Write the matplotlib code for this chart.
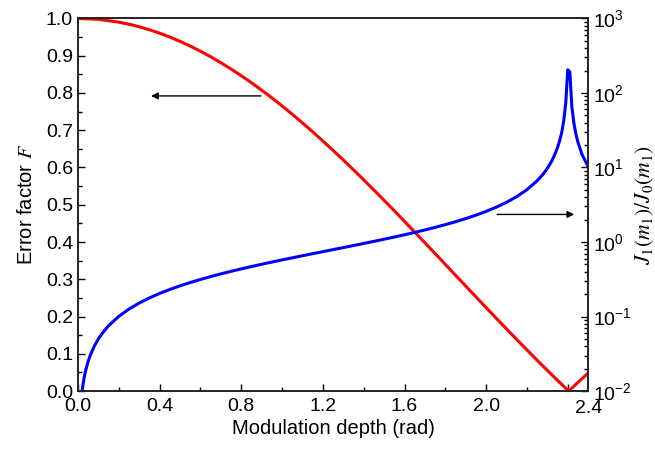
import matplotlib
matplotlib.use("Agg")
import matplotlib.pyplot as plt
from matplotlib.ticker import MultipleLocator, LogLocator, NullFormatter

plt.rcParams["font.family"] = ["Liberation Sans", "DejaVu Sans"]
plt.rcParams["mathtext.fontset"] = "stix"
plt.rcParams["axes.unicode_minus"] = False

# modulation depth (rad) and error factor F (left axis)
m_depth = [0.0, 0.1, 0.2, 0.25, 0.3, 0.35, 0.4, 0.45, 0.5, 0.55, 0.6, 0.65, 0.7,
           0.75, 0.8, 0.85, 0.9, 0.95, 1.0, 1.05, 1.1, 1.15, 1.2, 1.25, 1.3,
           1.35, 1.4, 1.45, 1.5, 1.55, 1.6, 1.65, 1.7, 1.75, 1.8, 1.85, 1.9,
           1.95, 2.0, 2.05, 2.1, 2.15, 2.2, 2.25, 2.3, 2.35, 2.4, 2.405, 2.45, 2.5]
error_factor = [1.0, 0.9975, 0.990, 0.9844, 0.9776, 0.9696, 0.9604, 0.950, 0.9385,
                0.9258, 0.912, 0.8972, 0.8812, 0.8642, 0.8463, 0.8274, 0.8075,
                0.7868, 0.7652, 0.7428, 0.7196, 0.6957, 0.6711, 0.6459, 0.6201,
                0.5937, 0.5669, 0.5396, 0.5118, 0.4838, 0.4554, 0.4268, 0.398,
                0.369, 0.340, 0.3109, 0.2818, 0.2528, 0.2239, 0.1951, 0.1666,
                0.1383, 0.1104, 0.0827, 0.0555, 0.0286, 0.0025, 0.0, 0.0235, 0.0484]

# J1(m1)/J0(m1) ratio (right axis, log)
m_ratio = [0.02, 0.03, 0.04, 0.05, 0.06, 0.08, 0.1, 0.12, 0.15, 0.2, 0.25, 0.3,
           0.35, 0.4, 0.45, 0.5, 0.55, 0.6, 0.65, 0.7, 0.75, 0.8, 0.85, 0.9, 0.95,
           1.0, 1.05, 1.1, 1.15, 1.2, 1.25, 1.3, 1.35, 1.4, 1.45, 1.5, 1.55, 1.6,
           1.65, 1.7, 1.75, 1.8, 1.85, 1.9, 1.95, 2.0, 2.05, 2.1, 2.15, 2.2, 2.25,
           2.28, 2.3, 2.32, 2.33, 2.34, 2.35, 2.36, 2.37, 2.38, 2.39, 2.40, 2.41,
           2.42, 2.43, 2.44, 2.45, 2.47, 2.5]
bessel_ratio = [0.0100, 0.0150, 0.0200, 0.0250, 0.0300, 0.0400, 0.0501, 0.0601,
                0.0752, 0.1005, 0.1260, 0.1517, 0.1777, 0.2041, 0.2307, 0.2582,
                0.2859, 0.3144, 0.3434, 0.3734, 0.4041, 0.4358, 0.4686, 0.5027,
                0.5381, 0.5752, 0.6136, 0.6544, 0.6971, 0.7425, 0.7905, 0.8418,
                0.8969, 0.9559, 1.020, 1.0901, 1.1666, 1.2514, 1.3458, 1.4518,
                1.5724, 1.7103, 1.8716, 2.0625, 2.292, 2.5757, 2.937, 3.411, 4.069,
                5.036, 6.631, 8.18, 9.728, 12.0, 13.63, 15.8, 18.6, 22.78, 29.1,
                41.96, 72.6, 205.0, 192.0, 65.3, 39.2, 27.9, 21.7, 14.9, 10.27]

FS = 14

fig = plt.figure(figsize=(6.55, 4.49), dpi=100)
ax = fig.add_axes([0.119, 0.129, 0.779, 0.830])
ax.plot(m_depth, error_factor, color="#ff0000", lw=2.2)
ax.set_xlim(0, 2.5)
ax.set_ylim(0, 1.0)
ax.set_xticks([0.0, 0.4, 0.8, 1.2, 1.6, 2.0, 2.4])
ax.set_xticklabels(["0.0", "0.4", "0.8", "1.2", "1.6", "2.0", ""])
ax.xaxis.set_minor_locator(MultipleLocator(0.2))
ax.yaxis.set_major_locator(MultipleLocator(0.1))
ax.yaxis.set_minor_locator(MultipleLocator(0.05))
ax.tick_params(which="both", direction="in", top=False, right=False, labelsize=FS)
ax.tick_params(which="major", length=5, width=1)
ax.tick_params(which="minor", length=3, width=1)
ax.tick_params(axis="x", pad=5)
ax.set_xlabel("Modulation depth (rad)", fontsize=FS + 0.5, labelpad=3)
ax.set_ylabel("Error factor $F$", fontsize=FS + 0.5, labelpad=7)
ax.annotate("2.4", xy=(1.0, 0), xycoords="axes fraction", xytext=(0, -6.5),
            textcoords="offset points", ha="center", va="top", fontsize=FS)

ax2 = ax.twinx()
ax2.plot(m_ratio, bessel_ratio, color="#0000ff", lw=2.2)
ax2.set_yscale("log")
ax2.set_ylim(1e-2, 1e3)
ax2.yaxis.set_major_locator(LogLocator(base=10, numticks=10))
ax2.yaxis.set_minor_locator(LogLocator(base=10, subs=range(2, 10), numticks=20))
ax2.yaxis.set_minor_formatter(NullFormatter())
ax2.tick_params(which="both", direction="in", labelsize=FS)
ax2.tick_params(which="major", length=5, width=1)
ax2.tick_params(which="minor", length=3, width=1)
ax2.set_ylabel("$J_1(m_1)/J_0(m_1)$", fontsize=15.5)
ax2.yaxis.set_label_coords(1.088, 0.5)

for a in (ax, ax2):
    for s in a.spines.values():
        s.set_linewidth(1.2)
        s.set_color("#222222")

arrow = dict(arrowstyle="-|>", color="black", lw=1, mutation_scale=10)
ax.annotate("", xy=(0.345, 0.792), xytext=(0.91, 0.792), arrowprops=arrow)
ax.annotate("", xy=(2.445, 0.474), xytext=(2.04, 0.474), arrowprops=arrow)

fig.savefig("out.png", dpi=100)
